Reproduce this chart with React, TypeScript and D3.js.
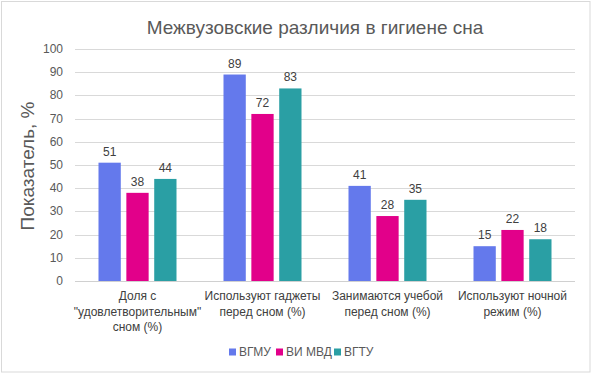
import React from "react";
import * as d3 from "d3";

const categories: string[][] = [
  ["Доля с", "\"удовлетворительным\"", "сном (%)"],
  ["Используют гаджеты", "перед сном (%)"],
  ["Занимаются учебой", "перед сном (%)"],
  ["Используют ночной", "режим (%)"],
];
const seriesNames = ["ВГМУ", "ВИ МВД", "ВГТУ"];
const vgmu = [51, 89, 41, 15];
const vimvd = [38, 72, 28, 22];
const vgtu = [44, 83, 35, 18];
const yTicks = [0, 10, 20, 30, 40, 50, 60, 70, 80, 90, 100];
const colors = ["#6479EC", "#E2008A", "#2A9FA4"];

const W = 591;
const H = 373;
const left = 75;
const right = 575;
const top = 49;
const bottom = 281;

export default function App() {
  const series = [vgmu, vimvd, vgtu];
  const x = d3
    .scaleBand<number>()
    .domain(categories.map((_, i) => i))
    .range([left, right])
    .paddingInner(0)
    .paddingOuter(0);
  const inner = d3
    .scaleBand<number>()
    .domain([0, 1, 2])
    .range([23.5, x.bandwidth() - 23.5])
    .paddingInner(0.2);
  const y = d3.scaleLinear().domain([0, 100]).range([bottom, top]);
  const font = "Arial, 'Liberation Sans', sans-serif";

  const legendX = [229, 276, 334];

  return (
    <svg
      width={W}
      height={H}
      style={{ position: "fixed", left: 0, top: 0, background: "#fff" }}
      fontFamily={font}
    >
      <rect x={0} y={0} width={W} height={H} fill="#fff" />
      <rect x={1.5} y={1.5} width={588.5} height={370.5} fill="none" stroke="#d9d9d9" strokeWidth={1} />
      <text x={315} y={34} textAnchor="middle" fontSize={19} fill="#595959">
        Межвузовские различия в гигиене сна
      </text>
      {yTicks.map((t) => (
        <g key={t}>
          <line
            x1={left}
            x2={right}
            y1={Math.round(y(t)) + 0.5}
            y2={Math.round(y(t)) + 0.5}
            stroke={t === 0 ? "#d0d0d0" : "#d9d9d9"}
            strokeWidth={1}
          />
          <text x={63} y={y(t) + 4} textAnchor="end" fontSize={12} fill="#595959">
            {t}
          </text>
        </g>
      ))}
      <text
        transform={`translate(34,${(top + bottom) / 2 + 1}) rotate(-90)`}
        textAnchor="middle"
        fontSize={19}
        fill="#595959"
      >
        Показатель, %
      </text>
      {categories.map((_, ci) =>
        series.map((s, si) => {
          const bx = (x(ci) as number) + (inner(si) as number);
          const bw = inner.bandwidth();
          return (
            <g key={`${ci}-${si}`}>
              <rect x={bx} y={y(s[ci])} width={bw} height={y(0) - y(s[ci])} fill={colors[si]} />
              <text
                x={bx + bw / 2}
                y={y(s[ci]) - 7}
                textAnchor="middle"
                fontSize={12}
                fill="#404040"
              >
                {s[ci]}
              </text>
            </g>
          );
        })
      )}
      {categories.map((lines, ci) => (
        <text
          key={ci}
          x={(x(ci) as number) + x.bandwidth() / 2}
          textAnchor="middle"
          fontSize={12}
          fill="#404040"
        >
          {lines.map((l, li) => (
            <tspan key={li} x={(x(ci) as number) + x.bandwidth() / 2} y={300 + li * 15.5}>
              {l}
            </tspan>
          ))}
        </text>
      ))}
      {seriesNames.map((n, i) => (
        <g key={n}>
          <rect x={legendX[i]} y={348.5} width={7} height={7} fill={colors[i]} />
          <text x={legendX[i] + 10} y={356} fontSize={12} fill="#595959">
            {n}
          </text>
        </g>
      ))}
    </svg>
  );
}
